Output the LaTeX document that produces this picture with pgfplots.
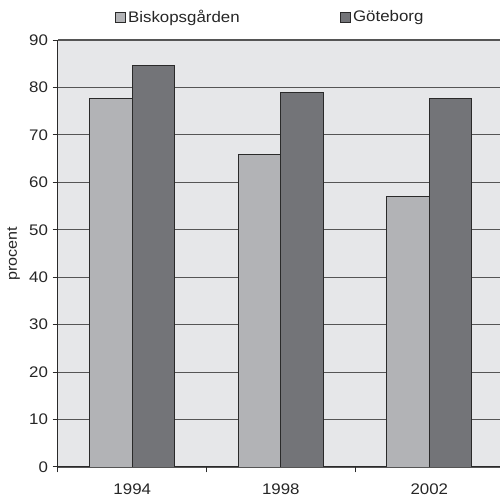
\documentclass[border=0pt]{standalone}
\usepackage{fontspec}
\setmainfont{Liberation Sans}[FakeStretch=1.1]
\usepackage{pgfplots}
\pgfplotsset{compat=1.18}
\definecolor{bgc}{HTML}{E6E7E9}
\definecolor{light}{HTML}{B2B3B6}
\definecolor{dark}{HTML}{737478}
\definecolor{gridc}{HTML}{555555}
\definecolor{edge}{HTML}{2A2A2A}
\begin{document}
\begin{tikzpicture}
\begin{axis}[
  name=ax,
  scale only axis,
  width=331.5pt, height=320.25pt,
  ybar=0pt, bar width=0.286,
  xmin=-0.5, xmax=2.476,
  ymin=0, ymax=90,
  ytick={0,10,...,90},
  xtick={0,1,2},
  xticklabels={1994,1998,2002},
  major x tick style={draw=none},
  extra x ticks={-0.5,0.5,1.5},
  extra x tick labels={},
  extra x tick style={major tick length=4pt, tick align=outside, major x tick style={draw=edge, line width=0.75pt}},
  tick align=outside,
  major tick length=4pt,
  tick style={draw=edge, line width=0.75pt},
  axis x line*=bottom, axis y line*=left,
  axis line style={draw=edge, line width=0.75pt, -},
  ymajorgrids, major grid style={draw=gridc, line width=0.8pt},
  axis background/.style={fill=bgc},
  /pgf/number format/assume math mode=true,
  tick label style={font=\fontsize{11.5}{13}\selectfont, text=black!85},
  xticklabel style={yshift=-5pt},
  ylabel={procent},
  ylabel style={font=\fontsize{11}{13}\selectfont, text=black!85},
  legend style={at={(0.129,1.054)}, anchor=west, draw=none, fill=none, inner sep=0pt,
    font=\fontsize{11.5}{13}\selectfont, text=black!85,
    legend columns=2,
    nodes={inner xsep=1.5pt},
    /tikz/every even column/.append style={column sep=74pt}},
  legend image code/.code={\draw[#1] (0pt,-3.75pt) rectangle (7.5pt,3.75pt);},
]
\addplot[fill=light, draw=edge, line width=0.6pt] coordinates {(0,77.6) (1,65.8) (2,57.1)};
\addplot[fill=dark, draw=edge, line width=0.6pt] coordinates {(0,84.7) (1,79.0) (2,77.6)};
\legend{Biskopsgården,Göteborg}
\end{axis}
\pgfresetboundingbox
\path ([xshift=-43.5pt,yshift=-22.5pt]ax.south west) rectangle ([yshift=30pt]ax.north east);
\end{tikzpicture}
\end{document}
